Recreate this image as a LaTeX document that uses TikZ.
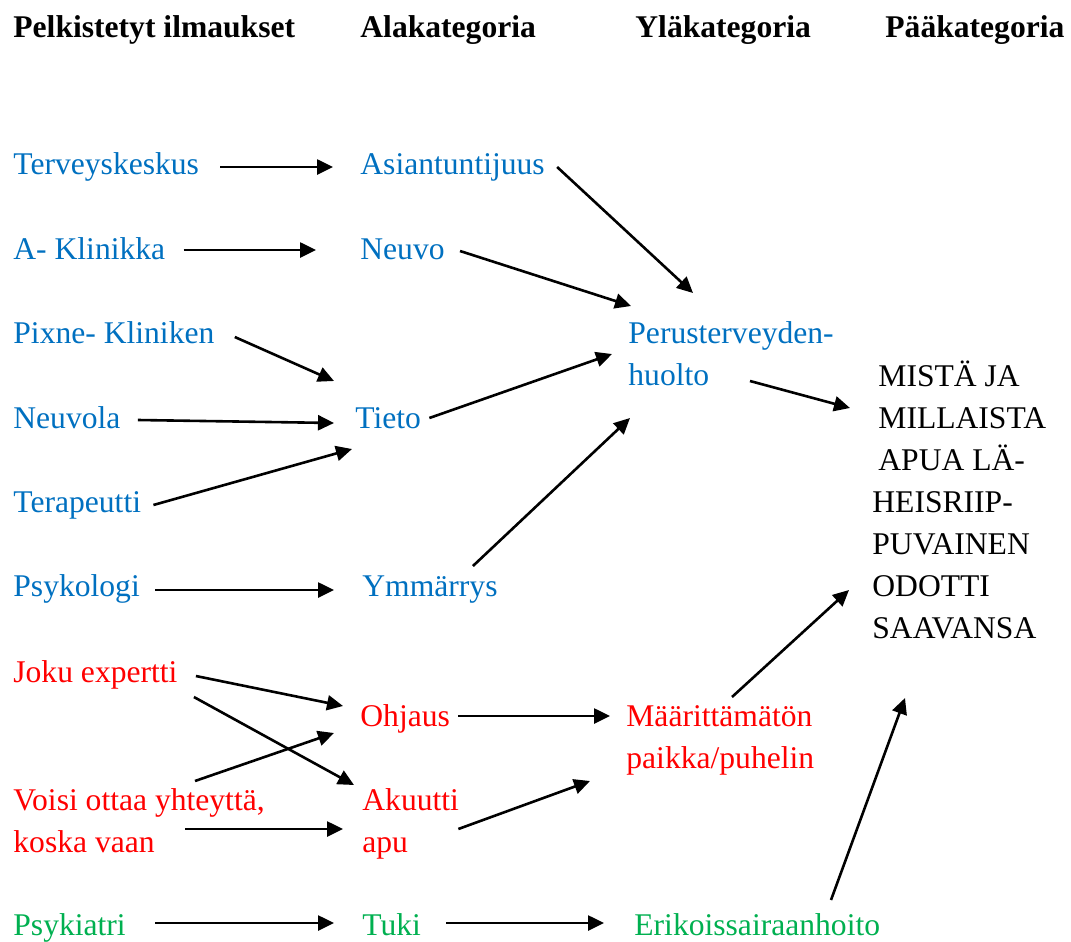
\documentclass[tikz,border=0pt]{standalone}
\usepackage{fontspec}
\setmainfont{Liberation Serif}
\usetikzlibrary{arrows.meta,calc}
\definecolor{wblue}{HTML}{0070C0}
\definecolor{wred}{HTML}{FF0000}
\definecolor{wgreen}{HTML}{00B050}

\begin{document}
\begin{tikzpicture}[x=0.5pt,y=-0.5pt,
    txt/.style={anchor=base west, inner sep=0pt, align=left, font=\fontsize{15.8pt}{21pt}\selectfont},
    hdr/.style={txt, font=\fontsize{15.8pt}{21pt}\selectfont\bfseries},
    arr/.style={-{Triangle[length=8pt,width=7.5pt]}, line width=1.3pt}]
    \useasboundingbox (0,0) rectangle (1071,942);

    % Headers
    \node[hdr] (h1) at (13,38) {Pelkistetyt ilmaukset};
    \node[hdr] (h2) at (360,38) {Alakategoria};
    \node[hdr] (h3) at (635,38) {Yläkategoria};
    \node[hdr] (h4) at (885,38) {Pääkategoria};

    % Pelkistetyt ilmaukset (multi-line nodes sit on their last baseline)
    \node[txt, text=wblue] (terv) at (13,174) {Terveyskeskus};
    \node[txt, text=wblue] (aklin) at (13,259) {A- Klinikka};
    \node[txt, text=wblue] (pixne) at (13,343) {Pixne- Kliniken};
    \node[txt, text=wblue] (neuvola) at (13,428) {Neuvola};
    \node[txt, text=wblue] (terap) at (13,512) {Terapeutti};
    \node[txt, text=wblue] (psyk) at (13,596) {Psykologi};
    \node[txt, text=wred] (joku) at (13,682) {Joku expertti};
    \node[txt, text=wred] (voisi) at (13,852) {Voisi ottaa yhteyttä,\\koska vaan};
    \node[txt, text=wgreen] (psykiatri) at (13,935) {Psykiatri};

    % Alakategoria
    \node[txt, text=wblue] (asian) at (360,174) {Asiantuntijuus};
    \node[txt, text=wblue] (neuvo) at (360,259) {Neuvo};
    \node[txt, text=wblue] (tieto) at (355,428) {Tieto};
    \node[txt, text=wblue] (ymm) at (362,596) {Ymmärrys};
    \node[txt, text=wred] (ohjaus) at (360,726) {Ohjaus};
    \node[txt, text=wred] (akuutti) at (362,852) {Akuutti\\apu};
    \node[txt, text=wgreen] (tuki) at (362,935) {Tuki};

    % Yläkategoria
    \node[txt, text=wblue] (perus) at (628,385) {Perusterveyden-\\huolto};
    \node[txt, text=wred] (maar) at (626,768) {Määrittämätön\\paikka/puhelin};
    \node[txt, text=wgreen] (erik) at (634,935) {Erikoissairaanhoito};

    % Pääkategoria
    \node[txt] (mista) at (872,638) {\hspace*{3pt}MISTÄ JA\\\hspace*{3pt}MILLAISTA\\\hspace*{3pt}APUA LÄ-\\HEISRIIP-\\PUVAINEN\\ODOTTI\\SAAVANSA};

    % Ilmaukset -> alakategoriat
    \draw[arr] ($(terv.base east)+(21,-7)$) -- ($(asian.base west)+(-27,-7)$);
    \draw[arr] ($(aklin.base east)+(18,-9)$) -- ($(neuvo.base west)+(-44,-9)$);
    \draw[arr] ($(pixne.base east)+(20,-6)$) -- ($(tieto.base west)+(-21,-47)$);
    \draw[arr] ($(neuvola.base east)+(17,-8)$) -- ($(tieto.base west)+(-21,-5)$);
    \draw[arr] ($(terap.base east)+(12,-7)$) -- ($(tieto.base west)+(-3,21)$);
    \draw[arr] ($(psyk.base east)+(15,-6)$) -- ($(ymm.base west)+(-28,-6)$);
    \draw[arr] ($(joku.base east)+(18,-6)$) -- ($(ohjaus.base west)+(-17,-20)$);
    \draw[arr] ($(joku.base east)+(16,15)$) -- ($(akuutti.base west)+(-8,-67)$);
    \draw[arr] ($(voisi.base west)+(182,-71)$) -- ($(ohjaus.base west)+(-26,7)$);
    \draw[arr] ($(voisi.base west)+(172,-23)$) -- ($(akuutti.base west)+(-19,-23)$);
    \draw[arr] ($(psykiatri.base east)+(29,-12)$) -- ($(tuki.base west)+(-28,-12)$);

    % Alakategoriat -> yläkategoriat
    \draw[arr] ($(asian.base east)+(12,-7)$) -- ($(perus.base west)+(65,-92)$);
    \draw[arr] ($(neuvo.base east)+(15,-8)$) -- ($(perus.base west)+(3,-79)$);
    \draw[arr] ($(tieto.base east)+(8,-10)$) -- ($(perus.base west)+(-16,-31)$);
    \draw[arr] ($(ymm.base east)+(-25,-30)$) -- ($(perus.base west)+(2,33)$);
    \draw[arr] ($(ohjaus.base east)+(8,-10)$) -- ($(maar.base west)+(-16,-52)$);
    \draw[arr] ($(akuutti.base east)+(-1,-23)$) -- ($(maar.base west)+(-36,13)$);
    \draw[arr] ($(tuki.base east)+(25,-12)$) -- ($(erik.base west)+(-30,-12)$);

    % Yläkategoriat -> pääkategoria
    \draw[arr] ($(perus.base west)+(122,-4)$) -- ($(mista.base west)+(-22,-230)$);
    \draw[arr] ($(maar.base west)+(106,-71)$) -- ($(mista.base west)+(-23,-48)$);
    \draw[arr] ($(erik.base west)+(197,-35)$) -- ($(mista.base west)+(33,60)$);
\end{tikzpicture}
\end{document}
